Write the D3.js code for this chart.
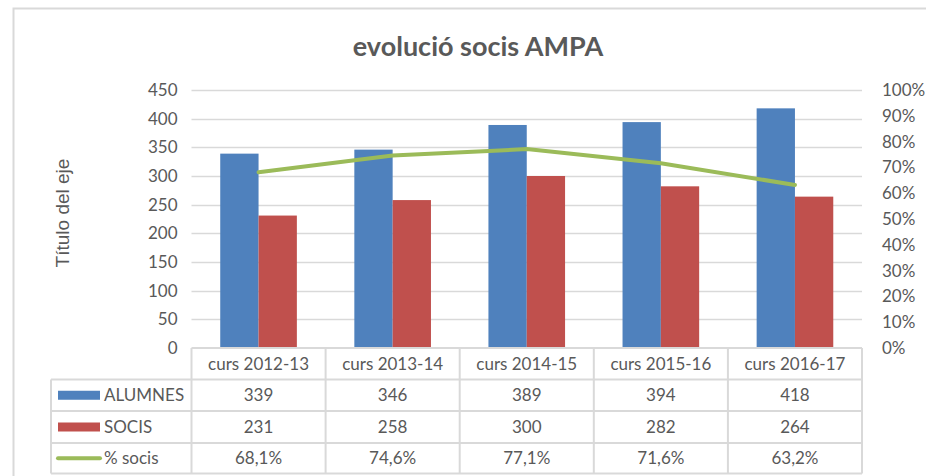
<!DOCTYPE html>
<html>
<head>
<meta charset="utf-8">
<script src="https://cdn.jsdelivr.net/npm/d3@7"></script>
<style>
  body { margin: 0; background: #fff; }
  text { font-family: Lato, "Open Sans", sans-serif; fill: #595959; }
</style>
</head>
<body>
<div id="chart"></div>
<script>
// data
var cursos = ["curs 2012-13", "curs 2013-14", "curs 2014-15", "curs 2015-16", "curs 2016-17"];
var alumnes = [339, 346, 389, 394, 418];
var socis = [231, 258, 300, 282, 264];
var pctSocis = [0.681, 0.746, 0.771, 0.716, 0.632];
var pctLabels = ["68,1%", "74,6%", "77,1%", "71,6%", "63,2%"];
var leftTicks = [0, 50, 100, 150, 200, 250, 300, 350, 400, 450];
var rightTicks = [0, 0.1, 0.2, 0.3, 0.4, 0.5, 0.6, 0.7, 0.8, 0.9, 1];

var W = 926, H = 476;
var blue = "#4F81BD", red = "#C0504D", green = "#9BBB59", grid = "#D9D9D9";

var svg = d3.select("#chart").append("svg").attr("width", W).attr("height", H);

// outer chart frame (runs off right/bottom like the screenshot)
svg.append("rect").attr("x", 13.5).attr("y", 8.5).attr("width", W + 20).attr("height", H + 20)
  .attr("fill", "#fff").attr("stroke", grid).attr("stroke-width", 2);

var plotLeft = 191.5, plotRight = 862, plotTop = 90, plotBottom = 348;

var x = d3.scaleBand().domain(cursos).range([plotLeft, plotRight]);
var y = d3.scaleLinear().domain([0, 450]).range([plotBottom, plotTop]);
var y2 = d3.scaleLinear().domain([0, 1]).range([plotBottom, plotTop]);

// title
svg.append("text").attr("x", 478).attr("y", 56).attr("text-anchor", "middle")
  .style("font-size", "27px").style("font-weight", "bold").text("evolució socis AMPA");

// gridlines
svg.append("g").selectAll("line").data(leftTicks.slice(1)).enter().append("line")
  .attr("x1", plotLeft).attr("x2", plotRight)
  .attr("y1", function (d) { return Math.round(y(d)) + 0.5; })
  .attr("y2", function (d) { return Math.round(y(d)) + 0.5; })
  .attr("stroke", grid).attr("stroke-width", 1.5);

// left axis
var yAxis = svg.append("g").attr("transform", "translate(" + (plotLeft - 14) + ",0)")
  .call(d3.axisLeft(y).tickValues(leftTicks).tickSize(0).tickPadding(0));
yAxis.select(".domain").remove();
yAxis.selectAll("text").style("font-size", "17px").style("font-family", "Lato, sans-serif").attr("fill", "#595959");

// right axis
var yAxis2 = svg.append("g").attr("transform", "translate(" + (plotRight + 20) + ",0)")
  .call(d3.axisRight(y2).tickValues(rightTicks).tickSize(0).tickPadding(0).tickFormat(d3.format(".0%")));
yAxis2.select(".domain").remove();
yAxis2.selectAll("text").style("font-size", "17px").style("font-family", "Lato, sans-serif").attr("fill", "#595959");

// axis title
svg.append("text").attr("transform", "translate(69,213) rotate(-90)").attr("text-anchor", "middle")
  .style("font-family", "'Liberation Sans', Arial, sans-serif").style("font-size", "19px").text("Título del eje");

// bars
var bw = x.bandwidth() / 3.5;
var gap = (x.bandwidth() - 2 * bw) / 2;
svg.append("g").selectAll("rect").data(cursos).enter().append("rect")
  .attr("x", function (d) { return x(d) + gap; })
  .attr("y", function (d, i) { return y(alumnes[i]); })
  .attr("width", bw)
  .attr("height", function (d, i) { return plotBottom - y(alumnes[i]); })
  .attr("fill", blue);
svg.append("g").selectAll("rect").data(cursos).enter().append("rect")
  .attr("x", function (d) { return x(d) + gap + bw; })
  .attr("y", function (d, i) { return y(socis[i]); })
  .attr("width", bw)
  .attr("height", function (d, i) { return plotBottom - y(socis[i]); })
  .attr("fill", red);

// line
var line = d3.line()
  .x(function (d, i) { return x(cursos[i]) + x.bandwidth() / 2; })
  .y(function (d) { return y2(d); });
svg.append("path").datum(pctSocis).attr("d", line)
  .attr("fill", "none").attr("stroke", green).attr("stroke-width", 4).attr("stroke-linecap", "round");

// data table
var rowY = [348, 379.5, 411, 443, 473.5];
var legendLeft = 51;
var tbl = svg.append("g").attr("stroke", grid).attr("stroke-width", 2).attr("fill", "none");
tbl.append("line").attr("x1", plotLeft).attr("x2", plotRight).attr("y1", rowY[0]).attr("y2", rowY[0]);
for (var r = 1; r < rowY.length; r++) {
  tbl.append("line").attr("x1", legendLeft).attr("x2", plotRight).attr("y1", rowY[r]).attr("y2", rowY[r]);
}
cursos.forEach(function (c) {
  tbl.append("line").attr("x1", x(c)).attr("x2", x(c)).attr("y1", rowY[0]).attr("y2", rowY[4]);
});
tbl.append("line").attr("x1", plotRight).attr("x2", plotRight).attr("y1", rowY[0]).attr("y2", rowY[4]);
tbl.append("line").attr("x1", legendLeft).attr("x2", legendLeft).attr("y1", rowY[1]).attr("y2", rowY[4]);

var rows = [
  { name: "ALUMNES", color: blue, vals: alumnes.map(String), kind: "bar" },
  { name: "SOCIS", color: red, vals: socis.map(String), kind: "bar" },
  { name: "% socis", color: green, vals: pctLabels, kind: "line" }
];

// header labels
svg.append("g").selectAll("text").data(cursos).enter().append("text")
  .attr("x", function (d) { return x(d) + x.bandwidth() / 2; })
  .attr("y", (rowY[0] + rowY[1]) / 2 + 6)
  .attr("text-anchor", "middle").style("font-size", "17px").text(function (d) { return d; });

rows.forEach(function (row, r) {
  var cy = (rowY[r + 1] + rowY[r + 2]) / 2;
  if (row.kind === "bar") {
    svg.append("rect").attr("x", 58).attr("y", cy - 4.5).attr("width", 42).attr("height", 9).attr("fill", row.color);
  } else {
    svg.append("line").attr("x1", 58).attr("x2", 100).attr("y1", cy).attr("y2", cy)
      .attr("stroke", row.color).attr("stroke-width", 4).attr("stroke-linecap", "round");
  }
  svg.append("text").attr("x", 104).attr("y", cy + 6).style("font-size", "17px").text(row.name);
  svg.append("g").selectAll("text").data(row.vals).enter().append("text")
    .attr("x", function (d, i) { return x(cursos[i]) + x.bandwidth() / 2; })
    .attr("y", cy + 6).attr("text-anchor", "middle").style("font-size", "17px")
    .text(function (d) { return d; });
});
</script>
</body>
</html>
